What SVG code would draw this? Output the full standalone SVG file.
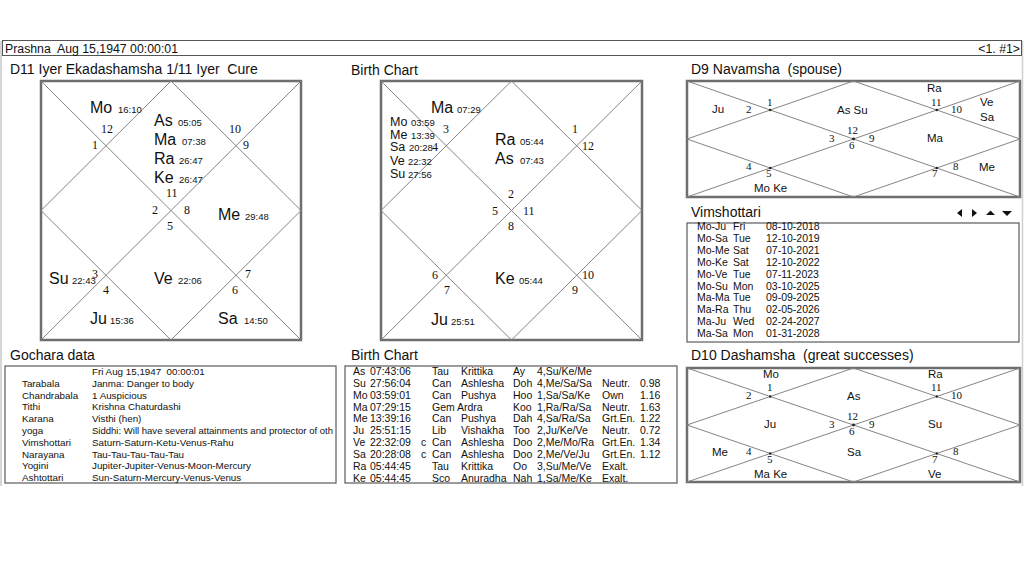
<svg xmlns="http://www.w3.org/2000/svg" width="1024" height="576" viewBox="0 0 1024 576">
<style>
text{font-family:"Liberation Sans",Arial,sans-serif;fill:#111;white-space:pre}
.tt{font-size:14px}
.hd{font-size:12.3px}
.pl{font-size:16px}
.pm{font-size:12.5px}
.dg{font-size:9.5px}
.hn{font-family:"Liberation Serif","Times New Roman",serif;font-size:12px}
.hs{font-family:"Liberation Serif","Times New Roman",serif;font-size:11px}
.sp{font-size:11.5px}
.tb{font-size:10.5px}
.gc{font-size:9.8px}
.frame{fill:#fff;stroke:#6e6e6e;stroke-width:2.5}
.in{fill:none;stroke:#858585;stroke-width:1}
.box{fill:#fff;stroke:#5a5a5a;stroke-width:1.2}
.dot{fill:#222}
</style>
<defs>
<clipPath id="gclip"><rect x="5" y="366" width="331" height="117"/></clipPath>
</defs>
<rect x="0" y="0" width="1024" height="576" fill="#fff"/>

<g id="outer">
<line x1="1" y1="41" x2="1" y2="486" stroke="#c8c8c8" stroke-width="1.5"/>
<line x1="1022.5" y1="41" x2="1022.5" y2="486" stroke="#d0d0d0" stroke-width="1.5"/>
</g>

<g id="header">
<rect x="2.5" y="40.5" width="1019" height="15" fill="#fff" stroke="#555" stroke-width="1"/>
<text class="hd" x="5" y="53">Prashna  Aug 15,1947 00:00:01</text>
<text class="hd" x="1020" y="53" text-anchor="end">&lt;1. #1&gt;</text>
</g>

<g id="d11-chart">
<text class="tt" x="10" y="74">D11 Iyer Ekadashamsha 1/11 Iyer  Cure</text>
<rect class="frame" x="41" y="81" width="260" height="259"/>
<path class="in" d="M41 81L301 340M301 81L41 340M171 81L301 210.5L171 340L41 210.5Z"/>
<text class="pl" x="90" y="113">Mo</text><text class="dg" x="118" y="113">16:10</text>
<text class="hn" x="101" y="133">12</text>
<text class="hn" x="92" y="149">1</text>
<text class="pl" x="154" y="126">As</text><text class="dg" x="178" y="126">05:05</text>
<text class="pl" x="154" y="145">Ma</text><text class="dg" x="182" y="145">07:38</text>
<text class="pl" x="154" y="164">Ra</text><text class="dg" x="179" y="164">26:47</text>
<text class="pl" x="154" y="183">Ke</text><text class="dg" x="179" y="183">26:47</text>
<text class="hn" x="166" y="197">11</text>
<text class="hn" x="229" y="133">10</text>
<text class="hn" x="243" y="149">9</text>
<text class="hn" x="152" y="214">2</text>
<text class="hn" x="184" y="214">8</text>
<text class="hn" x="167" y="230">5</text>
<text class="pl" x="218" y="220">Me</text><text class="dg" x="245" y="220">29:48</text>
<text class="pl" x="49" y="284">Su</text><text class="dg" x="72" y="284">22:43</text>
<text class="hn" x="92" y="278">3</text>
<text class="hn" x="103" y="294">4</text>
<text class="pl" x="154" y="284">Ve</text><text class="dg" x="178" y="284">22:06</text>
<text class="hn" x="245" y="278">7</text>
<text class="hn" x="232" y="294">6</text>
<text class="pl" x="90" y="324">Ju</text><text class="dg" x="110" y="324">15:36</text>
<text class="pl" x="218" y="324">Sa</text><text class="dg" x="244" y="324">14:50</text>
</g>

<g id="birth-chart">
<text class="tt" x="351" y="75">Birth Chart</text>
<rect class="frame" x="381" y="81" width="261" height="259"/>
<path class="in" d="M381 81L642 340M642 81L381 340M511.5 81L642 210.5L511.5 340L381 210.5Z"/>
<text class="pl" x="431" y="113">Ma</text><text class="dg" x="457" y="113">07:29</text>
<text class="pm" x="390" y="126">Mo</text><text class="dg" x="411" y="126">03:59</text>
<text class="pm" x="390" y="138.5">Me</text><text class="dg" x="411" y="138.5">13:39</text>
<text class="pm" x="390" y="151">Sa</text><text class="dg" x="409" y="151">20:28</text>
<text class="pm" x="390" y="164.5">Ve</text><text class="dg" x="408" y="164.5">22:32</text>
<text class="pm" x="390" y="178">Su</text><text class="dg" x="408" y="178">27:56</text>
<text class="hn" x="443" y="133">3</text>
<text class="hn" x="432" y="151">4</text>
<text class="pl" x="495" y="145">Ra</text><text class="dg" x="520" y="145">05:44</text>
<text class="pl" x="495" y="164">As</text><text class="dg" x="520" y="164">07:43</text>
<text class="hn" x="572" y="133">1</text>
<text class="hn" x="582" y="150">12</text>
<text class="hn" x="508" y="198">2</text>
<text class="hn" x="492" y="215">5</text>
<text class="hn" x="523" y="215">11</text>
<text class="hn" x="508" y="230">8</text>
<text class="hn" x="432" y="279">6</text>
<text class="hn" x="444" y="294">7</text>
<text class="pl" x="495" y="284">Ke</text><text class="dg" x="519" y="284">05:44</text>
<text class="hn" x="582" y="279">10</text>
<text class="hn" x="572" y="294">9</text>
<text class="pl" x="431" y="325">Ju</text><text class="dg" x="451" y="325">25:51</text>
</g>

<g id="d9-chart">
<text class="tt" x="691" y="74">D9 Navamsha  (spouse)</text>
<rect class="frame" x="687" y="81" width="333" height="116" stroke-width="2"/>
<path class="in" d="M687 81L1020 197M1020 81L687 197M853.5 81L1020 139L853.5 197L687 139Z"/>
<circle class="dot" cx="853.5" cy="139" r="1.4"/>
<circle class="dot" cx="770.2" cy="110" r="1.2"/>
<circle class="dot" cx="936.8" cy="110" r="1.2"/>
<circle class="dot" cx="770.2" cy="168" r="1.2"/>
<circle class="dot" cx="936.8" cy="168" r="1.2"/>
<text class="sp" x="712" y="113">Ju</text>
<text class="hs" x="746" y="113">2</text>
<text class="hs" x="767" y="106">1</text>
<text class="sp" x="837" y="114">As Su</text>
<text class="sp" x="927" y="92">Ra</text>
<text class="hs" x="931" y="106">11</text>
<text class="hs" x="951" y="113">10</text>
<text class="sp" x="980" y="106">Ve</text>
<text class="sp" x="980" y="121">Sa</text>
<text class="hs" x="847" y="134">12</text>
<text class="hs" x="829" y="142">3</text>
<text class="hs" x="869" y="142">9</text>
<text class="hs" x="849" y="149">6</text>
<text class="sp" x="927" y="142">Ma</text>
<text class="hs" x="746" y="170">4</text>
<text class="hs" x="766" y="177">5</text>
<text class="hs" x="953" y="170">8</text>
<text class="hs" x="932" y="177">7</text>
<text class="sp" x="979" y="171">Me</text>
<text class="sp" x="754" y="192">Mo Ke</text>
</g>

<g id="vimshottari">
<text class="tt" x="691" y="217">Vimshottari</text>
<polygon points="957,213 962,209 962,217" fill="#111"/>
<polygon points="972,209 977,213 972,217" fill="#111"/>
<polygon points="986,215 990.5,210.5 995,215" fill="#111"/>
<polygon points="1002,211 1012,211 1007,216" fill="#111"/>
<rect class="box" x="687" y="223" width="332" height="119"/>
<text class="tb" x="697" y="230">Mo-Ju</text><text class="tb" x="733" y="230">Fri</text><text class="tb" x="766" y="230">08-10-2018</text>
<text class="tb" x="697" y="241.9">Mo-Sa</text><text class="tb" x="733" y="241.9">Tue</text><text class="tb" x="766" y="241.9">12-10-2019</text>
<text class="tb" x="697" y="253.8">Mo-Me</text><text class="tb" x="733" y="253.8">Sat</text><text class="tb" x="766" y="253.8">07-10-2021</text>
<text class="tb" x="697" y="265.7">Mo-Ke</text><text class="tb" x="733" y="265.7">Sat</text><text class="tb" x="766" y="265.7">12-10-2022</text>
<text class="tb" x="697" y="277.6">Mo-Ve</text><text class="tb" x="733" y="277.6">Tue</text><text class="tb" x="766" y="277.6">07-11-2023</text>
<text class="tb" x="697" y="289.5">Mo-Su</text><text class="tb" x="733" y="289.5">Mon</text><text class="tb" x="766" y="289.5">03-10-2025</text>
<text class="tb" x="697" y="301.4">Ma-Ma</text><text class="tb" x="733" y="301.4">Tue</text><text class="tb" x="766" y="301.4">09-09-2025</text>
<text class="tb" x="697" y="313.3">Ma-Ra</text><text class="tb" x="733" y="313.3">Thu</text><text class="tb" x="766" y="313.3">02-05-2026</text>
<text class="tb" x="697" y="325.2">Ma-Ju</text><text class="tb" x="733" y="325.2">Wed</text><text class="tb" x="766" y="325.2">02-24-2027</text>
<text class="tb" x="697" y="337.1">Ma-Sa</text><text class="tb" x="733" y="337.1">Mon</text><text class="tb" x="766" y="337.1">01-31-2028</text>
</g>

<g id="gochara">
<text class="tt" x="10" y="360">Gochara data</text>
<rect class="box" x="5" y="366" width="331" height="117"/>
<g clip-path="url(#gclip)">
<text class="gc" x="92" y="375">Fri Aug 15,1947  00:00:01</text>
<text class="gc" x="22" y="386.8">Tarabala</text><text class="gc" x="92" y="386.8">Janma: Danger to body</text>
<text class="gc" x="22" y="398.6">Chandrabala</text><text class="gc" x="92" y="398.6">1 Auspicious</text>
<text class="gc" x="22" y="410.4">Tithi</text><text class="gc" x="92" y="410.4">Krishna Chaturdashi</text>
<text class="gc" x="22" y="422.2">Karana</text><text class="gc" x="92" y="422.2">Visthi (hen)</text>
<text class="gc" x="22" y="434">yoga</text><text class="gc" x="92" y="434" textLength="241" lengthAdjust="spacingAndGlyphs">Siddhi: Will have several attainments and protector of oth</text>
<text class="gc" x="22" y="445.8">Vimshottari</text><text class="gc" x="92" y="445.8">Saturn-Saturn-Ketu-Venus-Rahu</text>
<text class="gc" x="22" y="457.6">Narayana</text><text class="gc" x="92" y="457.6">Tau-Tau-Tau-Tau-Tau</text>
<text class="gc" x="22" y="469.4">Yogini</text><text class="gc" x="92" y="469.4">Jupiter-Jupiter-Venus-Moon-Mercury</text>
<text class="gc" x="22" y="481.2">Ashtottari</text><text class="gc" x="92" y="481.2">Sun-Saturn-Mercury-Venus-Venus</text>
</g>
</g>

<g id="birth-table">
<text class="tt" x="351" y="360">Birth Chart</text>
<rect class="box" x="345" y="366" width="332" height="117"/>
<text class="tb" x="353" y="375">As</text><text class="tb" x="370" y="375">07:43:06</text><text class="tb" x="432" y="375">Tau</text><text class="tb" x="461" y="375">Krittika</text><text class="tb" x="513" y="375">Ay</text><text class="tb" x="537" y="375">4,Su/Ke/Me</text>
<text class="tb" x="353" y="386.85">Su</text><text class="tb" x="370" y="386.85">27:56:04</text><text class="tb" x="432" y="386.85">Can</text><text class="tb" x="461" y="386.85">Ashlesha</text><text class="tb" x="513" y="386.85">Doh</text><text class="tb" x="537" y="386.85">4,Me/Sa/Sa</text><text class="tb" x="602" y="386.85">Neutr.</text><text class="tb" x="640" y="386.85">0.98</text>
<text class="tb" x="353" y="398.7">Mo</text><text class="tb" x="370" y="398.7">03:59:01</text><text class="tb" x="432" y="398.7">Can</text><text class="tb" x="461" y="398.7">Pushya</text><text class="tb" x="513" y="398.7">Hoo</text><text class="tb" x="537" y="398.7">1,Sa/Sa/Ke</text><text class="tb" x="602" y="398.7">Own</text><text class="tb" x="640" y="398.7">1.16</text>
<text class="tb" x="353" y="410.55">Ma</text><text class="tb" x="370" y="410.55">07:29:15</text><text class="tb" x="432" y="410.55">Gem</text><text class="tb" x="457" y="410.55">Ardra</text><text class="tb" x="513" y="410.55">Koo</text><text class="tb" x="537" y="410.55">1,Ra/Ra/Sa</text><text class="tb" x="602" y="410.55">Neutr.</text><text class="tb" x="640" y="410.55">1.63</text>
<text class="tb" x="353" y="422.4">Me</text><text class="tb" x="370" y="422.4">13:39:16</text><text class="tb" x="432" y="422.4">Can</text><text class="tb" x="461" y="422.4">Pushya</text><text class="tb" x="513" y="422.4">Dah</text><text class="tb" x="537" y="422.4">4,Sa/Ra/Sa</text><text class="tb" x="602" y="422.4">Grt.En.</text><text class="tb" x="640" y="422.4">1.22</text>
<text class="tb" x="353" y="434.25">Ju</text><text class="tb" x="370" y="434.25">25:51:15</text><text class="tb" x="432" y="434.25">Lib</text><text class="tb" x="461" y="434.25">Vishakha</text><text class="tb" x="513" y="434.25">Too</text><text class="tb" x="537" y="434.25">2,Ju/Ke/Ve</text><text class="tb" x="602" y="434.25">Neutr.</text><text class="tb" x="640" y="434.25">0.72</text>
<text class="tb" x="353" y="446.1">Ve</text><text class="tb" x="370" y="446.1">22:32:09</text><text class="tb" x="421" y="446.1">c</text><text class="tb" x="432" y="446.1">Can</text><text class="tb" x="461" y="446.1">Ashlesha</text><text class="tb" x="513" y="446.1">Doo</text><text class="tb" x="537" y="446.1">2,Me/Mo/Ra</text><text class="tb" x="602" y="446.1">Grt.En.</text><text class="tb" x="640" y="446.1">1.34</text>
<text class="tb" x="353" y="457.95">Sa</text><text class="tb" x="370" y="457.95">20:28:08</text><text class="tb" x="421" y="457.95">c</text><text class="tb" x="432" y="457.95">Can</text><text class="tb" x="461" y="457.95">Ashlesha</text><text class="tb" x="513" y="457.95">Doo</text><text class="tb" x="537" y="457.95">2,Me/Ve/Ju</text><text class="tb" x="602" y="457.95">Grt.En.</text><text class="tb" x="640" y="457.95">1.12</text>
<text class="tb" x="353" y="469.8">Ra</text><text class="tb" x="370" y="469.8">05:44:45</text><text class="tb" x="432" y="469.8">Tau</text><text class="tb" x="461" y="469.8">Krittika</text><text class="tb" x="513" y="469.8">Oo</text><text class="tb" x="537" y="469.8">3,Su/Me/Ve</text><text class="tb" x="602" y="469.8">Exalt.</text>
<text class="tb" x="353" y="481.65">Ke</text><text class="tb" x="370" y="481.65">05:44:45</text><text class="tb" x="432" y="481.65">Sco</text><text class="tb" x="461" y="481.65">Anuradha</text><text class="tb" x="513" y="481.65">Nah</text><text class="tb" x="537" y="481.65">1,Sa/Me/Ke</text><text class="tb" x="602" y="481.65">Exalt.</text>
</g>

<g id="d10-chart">
<text class="tt" x="691" y="360">D10 Dashamsha  (great successes)</text>
<rect class="frame" x="687" y="368" width="333" height="114" stroke-width="2"/>
<path class="in" d="M687 368L1020 482M1020 368L687 482M853.5 368L1020 425L853.5 482L687 425Z"/>
<circle class="dot" cx="853.5" cy="425" r="1.4"/>
<circle class="dot" cx="770.2" cy="396.5" r="1.2"/>
<circle class="dot" cx="936.8" cy="396.5" r="1.2"/>
<circle class="dot" cx="770.2" cy="453.5" r="1.2"/>
<circle class="dot" cx="936.8" cy="453.5" r="1.2"/>
<text class="sp" x="763" y="378">Mo</text>
<text class="sp" x="928" y="378">Ra</text>
<text class="hs" x="767" y="391">1</text>
<text class="hs" x="746" y="399">2</text>
<text class="hs" x="931" y="391">11</text>
<text class="hs" x="951" y="399">10</text>
<text class="sp" x="847" y="400">As</text>
<text class="hs" x="847" y="420">12</text>
<text class="sp" x="764" y="428">Ju</text>
<text class="hs" x="829" y="428">3</text>
<text class="hs" x="869" y="428">9</text>
<text class="sp" x="928" y="428">Su</text>
<text class="hs" x="849" y="435">6</text>
<text class="sp" x="712" y="456">Me</text>
<text class="hs" x="746" y="455">4</text>
<text class="sp" x="847" y="456">Sa</text>
<text class="hs" x="953" y="455">8</text>
<text class="hs" x="767" y="463">5</text>
<text class="hs" x="932" y="463">7</text>
<text class="sp" x="754" y="478">Ma Ke</text>
<text class="sp" x="928" y="478">Ve</text>
</g>
</svg>
